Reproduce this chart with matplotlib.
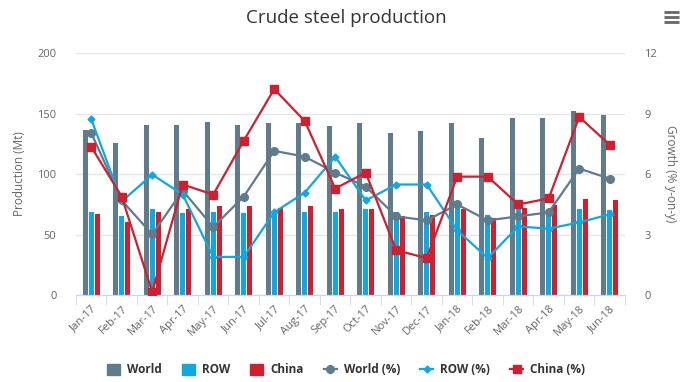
import numpy as np
import matplotlib.pyplot as plt
from matplotlib.lines import Line2D
from matplotlib.patches import Patch

plt.rcParams['font.family'] = ['Open Sans', 'DejaVu Sans']

# DATA

months = ["Jan-17", "Feb-17", "Mar-17", "Apr-17", "May-17", "Jun-17",
          "Jul-17", "Aug-17", "Sep-17", "Oct-17", "Nov-17", "Dec-17",
          "Jan-18", "Feb-18", "Mar-18", "Apr-18", "May-18", "Jun-18"]

world = [136.4, 125.8, 140.5, 140.5, 143.3, 140.5, 142.2, 142.2, 139.7,
         142.2, 134.0, 135.6, 142.2, 129.9, 146.3, 146.3, 152.0, 148.8]
row = [69.0, 65.0, 70.7, 67.4, 69.0, 67.4, 68.2, 68.2, 68.2,
       70.7, 69.0, 69.0, 72.0, 65.8, 71.5, 68.0, 71.5, 70.0]
china = [66.6, 60.0, 69.0, 71.5, 73.2, 73.2, 72.3, 73.2, 70.7,
         70.7, 65.0, 65.8, 70.7, 63.3, 72.3, 74.0, 79.7, 78.9]

world_pct = [8.04, 4.69, 3.01, 5.18, 3.37, 4.88, 7.15, 6.86, 6.07,
             5.38, 3.90, 3.70, 4.49, 3.70, 3.90, 4.10, 6.27, 5.77]
row_pct = [8.73, 4.64, 5.97, 4.98, 1.89, 1.89, 4.10, 5.08, 6.86,
           4.69, 5.48, 5.48, 3.21, 1.83, 3.40, 3.29, 3.60, 4.00]
china_pct = [7.35, 4.88, 0.15, 5.48, 4.98, 7.65, 10.21, 8.63, 5.28,
             6.07, 2.22, 1.83, 5.87, 5.87, 4.49, 4.79, 8.83, 7.45]

# STYLE

c_world = "#5f7b8c"
c_row = "#10a8e0"
c_china = "#d11f2f"
grid_c = "#e6e6e6"
txt_c = "#666666"

fig = plt.figure(figsize=(6.92, 3.82), dpi=100)
ax = fig.add_axes([0.1098, 0.2277, 0.7933, 0.6335])
ax2 = ax.twinx()

x = np.arange(len(months))
slot = 0.6 / 3
bw = slot * 0.8

ax.bar(x - slot, world, bw, color=c_world, zorder=2)
ax.bar(x, row, bw, color=c_row, zorder=2)
ax.bar(x + slot, china, bw, color=c_china, zorder=2)

ax2.plot(x, world_pct, color=c_world, lw=1.6, marker="o", ms=5.5, zorder=3)
ax2.plot(x, row_pct, color=c_row, lw=1.6, marker="D", ms=3.5, zorder=3)
ax2.plot(x, china_pct, color=c_china, lw=1.6, marker="s", ms=6, zorder=3)

ax.set_xlim(-0.5, len(months) - 0.5)
ax.set_ylim(0, 200)
ax2.set_ylim(0, 12)
ax.set_yticks([0, 50, 100, 150, 200])
ax2.set_yticks([0, 3, 6, 9, 12])

ax.grid(axis="y", color=grid_c, lw=1, zorder=0)
ax.set_axisbelow(True)

for a in (ax, ax2):
    for s in ("top", "left", "right"):
        a.spines[s].set_visible(False)
    a.spines["bottom"].set_color("#ccd6eb")
    a.tick_params(axis="y", length=0, labelsize=8, labelcolor=txt_c, pad=14)

ax.set_xticks(x)
ax.set_xticklabels(months, rotation=45, ha="right", rotation_mode="anchor")
ax.set_xticks(np.arange(-0.5, len(months), 1), minor=True)
ax.tick_params(axis="x", which="major", length=0, labelsize=8, labelcolor=txt_c, pad=6)
ax.tick_params(axis="x", which="minor", length=7, color="#ccd6eb")

ax.set_ylabel("Production (Mt)", color=txt_c, fontsize=8.5, labelpad=8)
ax2.set_ylabel("Growth (% y-on-y)", color=txt_c, fontsize=8.5, rotation=270, labelpad=14)

fig.text(0.5, 0.953, "Crude steel production", ha="center", va="center",
         fontsize=13.5, color="#333333")

# menu icon
for yy in (0.942, 0.955, 0.968):
    fig.add_artist(Line2D([0.959, 0.981], [yy, yy], color="#666666", lw=2,
                          solid_capstyle="butt"))

handles = [
    Patch(color=c_world), Patch(color=c_row), Patch(color=c_china),
    Line2D([], [], color=c_world, lw=1.6, marker="o", ms=5.5),
    Line2D([], [], color=c_row, lw=1.6, marker="D", ms=3.5),
    Line2D([], [], color=c_china, lw=1.6, marker="s", ms=6),
]
labels = ["World", "ROW", "China", "World (%)", "ROW (%)", "China (%)"]
leg = fig.legend(handles, labels, loc="center", bbox_to_anchor=(0.5, 0.032),
                 ncol=6, frameon=False, handlelength=1.1, handleheight=1.0,
                 columnspacing=1.7, handletextpad=0.6,
                 prop={"weight": "bold", "size": 8.5})
for t in leg.get_texts():
    t.set_color("#333333")

fig.savefig("out.png", dpi=100)
